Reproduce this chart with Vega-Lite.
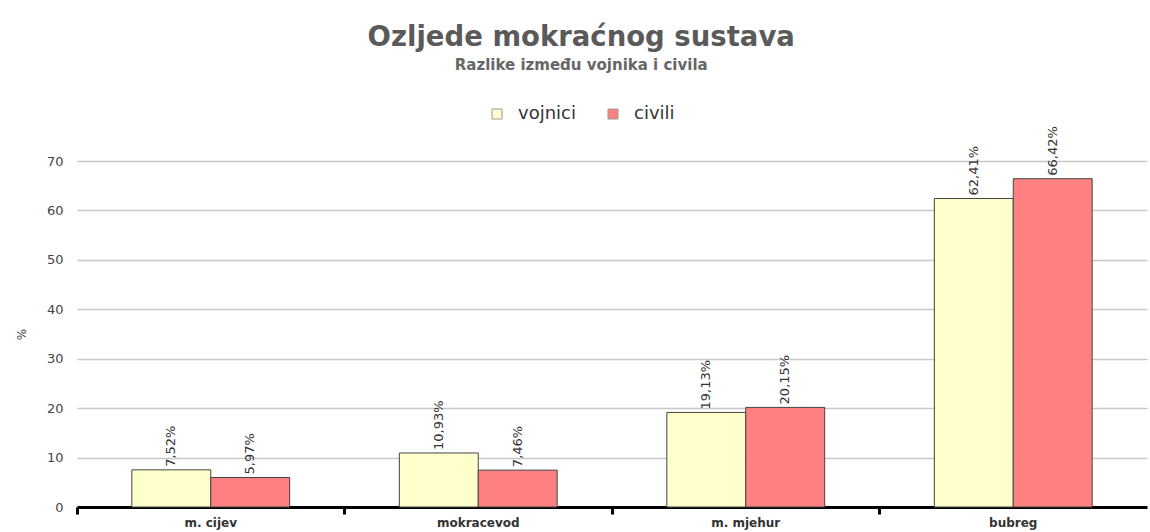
{
  "$schema": "https://vega.github.io/schema/vega-lite/v6.json",
  "width": 1070,
  "height": 346,
  "autosize": {"type": "none"},
  "padding": {"left": 77, "top": 161, "right": 3, "bottom": 25},
  "title": {
    "text": "Ozljede mokraćnog sustava",
    "subtitle": "Razlike između vojnika i civila",
    "font": "DejaVu Sans",
    "fontSize": 27.5,
    "fontWeight": "bold",
    "color": "#5a5a5a",
    "subtitleFont": "DejaVu Sans",
    "subtitleFontSize": 15,
    "subtitleFontWeight": "bold",
    "subtitleColor": "#666666",
    "subtitlePadding": 7,
    "anchor": "middle",
    "frame": "bounds",
    "offset": 32
  },
  "data": {
    "values": [
      {"category": "m. cijev", "series": "vojnici", "value": 7.52, "label": "7,52%"},
      {"category": "m. cijev", "series": "civili", "value": 5.97, "label": "5,97%"},
      {"category": "mokracevod", "series": "vojnici", "value": 10.93, "label": "10,93%"},
      {"category": "mokracevod", "series": "civili", "value": 7.46, "label": "7,46%"},
      {"category": "m. mjehur", "series": "vojnici", "value": 19.13, "label": "19,13%"},
      {"category": "m. mjehur", "series": "civili", "value": 20.15, "label": "20,15%"},
      {"category": "bubreg", "series": "vojnici", "value": 62.41, "label": "62,41%"},
      {"category": "bubreg", "series": "civili", "value": 66.42, "label": "66,42%"}
    ]
  },
  "encoding": {
    "x": {
      "field": "category",
      "type": "nominal",
      "sort": ["m. cijev", "mokracevod", "m. mjehur", "bubreg"],
      "scale": {"paddingInner": 0.41, "paddingOuter": 0.205},
      "axis": {
        "title": null,
        "labelAngle": 0,
        "labelFont": "DejaVu Sans",
        "labelFontSize": 12,
        "labelFontWeight": "bold",
        "labelColor": "#333333",
        "labelPadding": 3,
        "domainColor": "#000000",
        "domainWidth": 3,
        "tickColor": "#000000",
        "tickWidth": 3,
        "tickSize": 7,
        "bandPosition": -0.347,
        "grid": false
      }
    },
    "xOffset": {"field": "series", "type": "nominal", "sort": ["vojnici", "civili"]},
    "y": {
      "field": "value",
      "type": "quantitative",
      "scale": {"domain": [0, 70]},
      "axis": {
        "title": "%",
        "titleFont": "DejaVu Sans",
        "titleFontSize": 12,
        "titleFontWeight": "normal",
        "titleColor": "#444444",
        "titlePadding": 18,
        "values": [0, 10, 20, 30, 40, 50, 60, 70],
        "labelFont": "DejaVu Sans",
        "labelFontSize": 13,
        "labelColor": "#444444",
        "labelPadding": 14,
        "domain": false,
        "ticks": false,
        "grid": true,
        "gridColor": "#c8c8c8",
        "gridWidth": 1.5
      }
    }
  },
  "layer": [
    {
      "mark": {"type": "bar", "stroke": "#444444", "strokeWidth": 1},
      "encoding": {
        "color": {
          "field": "series",
          "type": "nominal",
          "scale": {"domain": ["vojnici", "civili"], "range": ["#FFFFCC", "#FF8080"]},
          "legend": {
            "title": null,
            "orient": "none",
            "legendX": 411,
            "legendY": -56,
            "direction": "horizontal",
            "symbolType": "square",
            "symbolSize": 100,
            "symbolStrokeColor": "#999999",
            "symbolStrokeWidth": 1,
            "labelFont": "DejaVu Sans",
            "labelFontSize": 18,
            "labelColor": "#333333",
            "columnPadding": 28,
            "labelOffset": 12
          }
        }
      }
    },
    {
      "mark": {
        "type": "text",
        "angle": 270,
        "align": "left",
        "baseline": "middle",
        "dx": 3,
        "font": "DejaVu Sans",
        "fontSize": 13,
        "color": "#333333"
      },
      "encoding": {"text": {"field": "label"}}
    }
  ],
  "config": {"view": {"stroke": null}, "background": "white"}
}
